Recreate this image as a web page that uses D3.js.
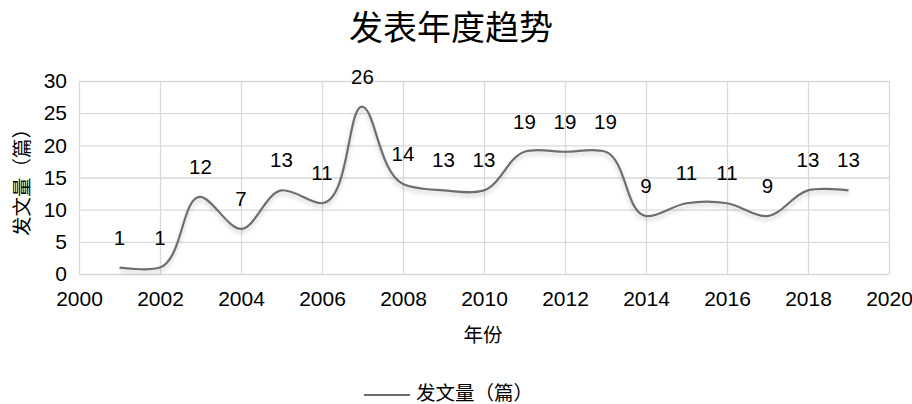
<!DOCTYPE html>
<html>
<head>
<meta charset="utf-8">
<script src="https://cdn.jsdelivr.net/npm/d3@7"></script>
<style>
  body { margin: 0; background: #fff; }
  svg { font-family: "Liberation Sans", Arial, sans-serif; }
  .cjk { font-family: "Noto Sans CJK SC", sans-serif; }
</style>
</head>
<body>
<script>
var years = [2001, 2002, 2003, 2004, 2005, 2006, 2007, 2008, 2009, 2010,
             2011, 2012, 2013, 2014, 2015, 2016, 2017, 2018, 2019];
var counts = [1, 1, 12, 7, 13, 11, 26, 14, 13, 13,
              19, 19, 19, 9, 11, 11, 9, 13, 13];
var xTicks = [2000, 2002, 2004, 2006, 2008, 2010, 2012, 2014, 2016, 2018, 2020];
var yTicks = [0, 5, 10, 15, 20, 25, 30];

var width = 912, height = 404;
var plotLeft = 79, plotRight = 889, plotTop = 81, plotBottom = 274;

var svg = d3.select("body")
            .append("svg")
            .attr("width", width)
            .attr("height", height);

var x = d3.scaleLinear().domain([2000, 2020]).range([plotLeft, plotRight]);
var y = d3.scaleLinear().domain([0, 30]).range([plotBottom, plotTop]);

// soft shadow under the line
var defs = svg.append("defs");
var f = defs.append("filter").attr("id", "shadow")
    .attr("x", "-5%").attr("y", "-10%").attr("width", "110%").attr("height", "130%");
f.append("feDropShadow")
    .attr("dx", 0).attr("dy", 3).attr("stdDeviation", 2)
    .attr("flood-color", "#000").attr("flood-opacity", 0.2);

// grid
svg.append("g")
   .attr("transform", "translate(0," + plotBottom + ")")
   .call(d3.axisBottom(x).tickValues(xTicks).tickSize(-(plotBottom - plotTop)).tickFormat(""))
   .call(function(g) { g.select(".domain").remove(); })
   .selectAll("line").attr("stroke", "#d9d9d9").attr("stroke-width", 1.3);

svg.append("g")
   .attr("transform", "translate(" + plotLeft + ",0)")
   .call(d3.axisLeft(y).tickValues(yTicks).tickSize(-(plotRight - plotLeft)).tickFormat(""))
   .call(function(g) { g.select(".domain").remove(); })
   .selectAll("line").attr("stroke", "#d9d9d9").attr("stroke-width", 1.3);

// tick labels
var xAxis = svg.append("g")
   .attr("transform", "translate(0," + plotBottom + ")")
   .call(d3.axisBottom(x).tickValues(xTicks).tickSize(0).tickPadding(17).tickFormat(d3.format("d")));
xAxis.select(".domain").remove();
xAxis.selectAll("text").attr("font-size", "21px").attr("fill", "#000")
     .attr("font-family", "Liberation Sans, Arial, sans-serif");

var yAxis = svg.append("g")
   .attr("transform", "translate(" + plotLeft + ",0)")
   .call(d3.axisLeft(y).tickValues(yTicks).tickSize(0).tickPadding(12));
yAxis.select(".domain").remove();
yAxis.selectAll("text").attr("font-size", "21px").attr("fill", "#000")
     .attr("font-family", "Liberation Sans, Arial, sans-serif");

// line
var line = d3.line()
    .x(function(d, i) { return x(years[i]); })
    .y(function(d) { return y(d); })
    .curve(d3.curveCatmullRom.alpha(1));

svg.append("path")
   .datum(counts)
   .attr("d", line)
   .attr("fill", "none")
   .attr("stroke", "#6e6e6e")
   .attr("stroke-width", 2.2)
   .attr("filter", "url(#shadow)");

// data labels
svg.selectAll("text.lbl")
   .data(counts)
   .enter()
   .append("text")
   .attr("class", "lbl")
   .text(function(d) { return d; })
   .attr("x", function(d, i) { return x(years[i]); })
   .attr("y", function(d) { return y(d) - 23; })
   .attr("text-anchor", "middle")
   .attr("font-size", "20.5px")
   .attr("fill", "#000");

// titles
svg.append("text")
   .attr("class", "cjk")
   .attr("x", 451).attr("y", 40)
   .attr("text-anchor", "middle")
   .attr("font-size", "34px")
   .attr("fill", "#000")
   .text("发表年度趋势");

svg.append("text")
   .attr("class", "cjk")
   .attr("x", 483).attr("y", 342)
   .attr("text-anchor", "middle")
   .attr("font-size", "19.5px")
   .attr("fill", "#000")
   .text("年份");

svg.append("text")
   .attr("class", "cjk")
   .attr("transform", "translate(29," + ((plotTop + plotBottom) / 2) + ") rotate(-90)")
   .attr("text-anchor", "middle")
   .attr("font-size", "19.5px")
   .attr("fill", "#000")
   .text("发文量（篇）");

// legend
var lg = svg.append("g");
lg.append("line")
  .attr("x1", 364).attr("x2", 410)
  .attr("y1", 395).attr("y2", 395)
  .attr("stroke", "#6e6e6e").attr("stroke-width", 2.2);
lg.append("text")
  .attr("class", "cjk")
  .attr("x", 416).attr("y", 400)
  .attr("font-size", "19.5px")
  .attr("fill", "#000")
  .text("发文量（篇）");
</script>
</body>
</html>
